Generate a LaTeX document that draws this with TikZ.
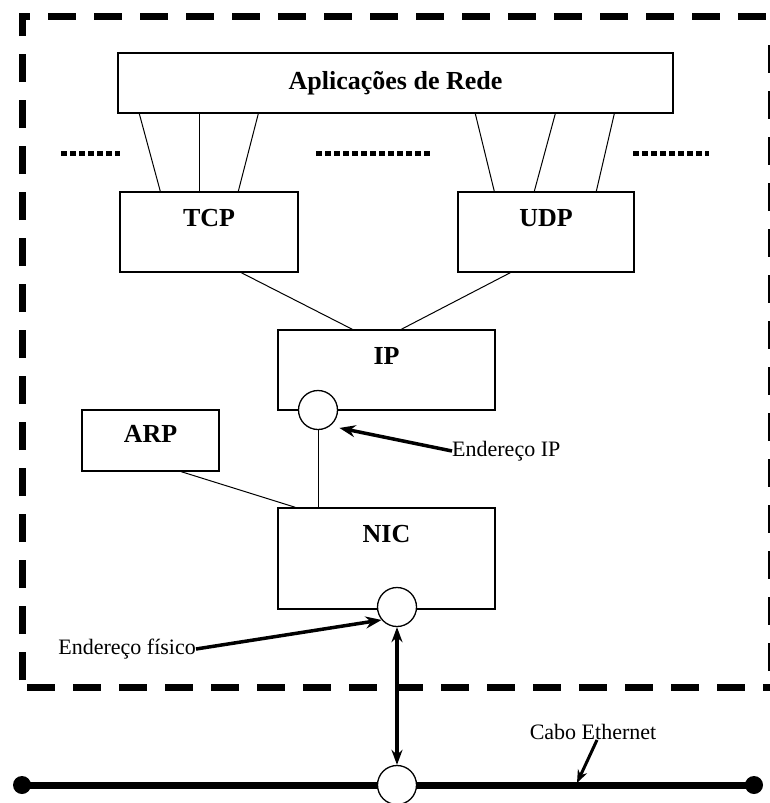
\documentclass[tikz,border=0pt]{standalone}
\usepackage{fontspec}
\setmainfont{Liberation Serif}
\usetikzlibrary{arrows.meta}
\begin{document}
\begin{tikzpicture}[x=1pt,y=-1pt,
  box/.style={draw, line width=1.4pt, inner sep=0pt},
  boxlbl/.style={font=\fontsize{26}{26}\selectfont\bfseries},
  txt/.style={font=\fontsize{22}{22}\selectfont, inner sep=0pt},
  conn/.style={line width=1pt},
  port/.style={circle, draw, line width=1.3pt, fill=white, minimum size=39pt, inner sep=0pt},
  bigarrow/.style={line width=3.5pt, -{Stealth[length=16pt,width=12pt]}},
  dots/.style={line width=5pt, dash pattern=on 5.5pt off 3.5pt}]
\useasboundingbox (0,0) rectangle (770,803);
% dashed host boundary
\draw[line width=7pt, dash pattern=on 28pt off 18pt] (22,680) -- (22,16) -- (772,16);
\draw[line width=7pt, dash pattern=on 28pt off 18pt] (27,687) -- (772,687);
\draw[line width=7pt, dash pattern=on 28pt off 18pt] (771,45) -- (771,687);
% boxes
\node[box, minimum width=555pt, minimum height=60pt, boxlbl] (app) at (395.5,83) {Aplicações de Rede};
\node[box, minimum width=178pt, minimum height=80pt] (tcp) at (209,232) {};
\node[boxlbl, anchor=center] (tcpl) at (209,218) {TCP};
\node[box, minimum width=176pt, minimum height=80pt] (udp) at (546,232) {};
\node[boxlbl, anchor=center] (udpl) at (546,218) {UDP};
\node[box, minimum width=217pt, minimum height=80pt] (ip) at (386.5,370) {};
\node[boxlbl, anchor=center] (ipl) at (386.5,356) {IP};
\node[box, minimum width=137pt, minimum height=61pt] (arp) at (150.5,440.5) {};
\node[boxlbl, anchor=center] (arpl) at (150.5,434) {ARP};
\node[box, minimum width=217pt, minimum height=101pt] (nic) at (386.5,558.5) {};
\node[boxlbl, anchor=center] (nicl) at (386.5,534) {NIC};
% dotted separators
\draw[dots] (61,153) -- (120,153);
\draw[dots] (316,153) -- (431,153);
\draw[dots] (633,153) -- (709,153);
% app to transport connectors
\draw[conn] ([xshift=22pt]app.south west) -- ([xshift=41pt]tcp.north west);
\draw[conn] ([xshift=82pt]app.south west) -- ([xshift=80pt]tcp.north west);
\draw[conn] ([xshift=141pt]app.south west) -- ([xshift=119pt]tcp.north west);
\draw[conn] ([xshift=358pt]app.south west) -- ([xshift=37pt]udp.north west);
\draw[conn] ([xshift=438pt]app.south west) -- ([xshift=77pt]udp.north west);
\draw[conn] ([xshift=497pt]app.south west) -- ([xshift=139pt]udp.north west);
% transport to IP
\draw[conn] ([xshift=122pt]tcp.south west) -- ([xshift=75pt]ip.north west);
\draw[conn] ([xshift=53pt]udp.south west) -- ([xshift=124pt]ip.north west);
% ports
\node[port] (ipc) at (318,410) {};
\draw[conn] (ipc.south) -- (ipc.south |- nic.north);
\draw[conn] ([xshift=100pt]arp.south west) -- ([xshift=18pt]nic.north west);
\node[port] (nicc) at (397,607) {};
% cable
\coordinate (cl) at (22,785);
\coordinate (cr) at (754,785);
\coordinate (cpt) at (577,783);
\draw[line width=7pt] (cl) -- (cr);
\fill (cl) circle (9pt);
\fill (cr) circle (9pt);
\node[port] (busc) at (397,785) {};
\draw[line width=3.5pt, {Stealth[length=15pt,width=11pt]}-{Stealth[length=15pt,width=11pt]}] (nicc.south) -- (busc.north);
% labels
\node[txt, anchor=west] (eip) at (452,451) {Endereço IP};
\draw[bigarrow] (eip.west) -- ([shift={(6pt,-5pt)}]ipc.-40);
\node[txt, anchor=east] (efis) at (196,649) {Endereço físico};
\draw[bigarrow] (efis.east) -- (nicc.220);
\node[txt] (cabo) at (593,732) {Cabo Ethernet};
\draw[line width=3pt, -{Stealth[length=13pt,width=10pt]}] ([xshift=4pt]cabo.south) -- (cpt);
\end{tikzpicture}
\end{document}
